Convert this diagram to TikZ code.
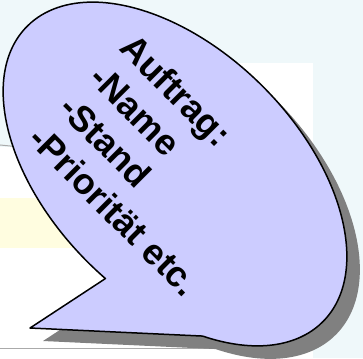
\documentclass[tikz,border=0pt]{standalone}
\usepackage{fontspec}
\setmainfont{Liberation Sans}
\usepackage{tikz}

\definecolor{bgCyan}{RGB}{239,248,250}
\definecolor{stripYellow}{RGB}{255,253,224}
\definecolor{bubbleFill}{RGB}{204,204,255}
\definecolor{shadowGray}{RGB}{128,128,128}
\definecolor{lineGray}{RGB}{170,170,170}

\newcommand{\bubblePath}{(-50.1:209 and 124) arc[start angle=-50.1, end angle=276.8, x radius=209, y radius=124] -- (6.4,-211.4) -- cycle}

\begin{document}
\begin{tikzpicture}[
x=1pt, y=1pt,
bubble/.style={fill=bubbleFill, draw=black, line width=1.5pt, line join=round},
shadow/.style={fill=shadowGray},
calltext/.style={align=left, inner sep=0pt, font=\bfseries\fontsize{36}{43}\selectfont},
grayline/.style={draw=lineGray, line width=1pt}
]
\useasboundingbox (0,0) rectangle (363,358);

% HINTERGRUND
\fill[bgCyan] (0,0) rectangle (363,358);
\fill[white] (0,0) rectangle (313,211);
\fill[white] (150,0) rectangle (313,295);
\fill[stripYellow] (0,110) rectangle (150,160);
\draw[grayline] (0,9.5) -- (313,9.5);
\draw[grayline] (0,213) -- (30,210);

% SCHATTEN
\begin{scope}[shift={(188,171)}, rotate=-45]
\fill[shadow] \bubblePath;
\end{scope}

% SPRECHBLASE
\begin{scope}[shift={(175,184)}, rotate=-45]
\filldraw[bubble] \bubblePath;
\end{scope}

% TEXT
\node (auftrag) [calltext, rotate=-45] at (160,193) {Auftrag:\\-Name\\-Stand\\-Priorität etc.};

\end{tikzpicture}
\end{document}
